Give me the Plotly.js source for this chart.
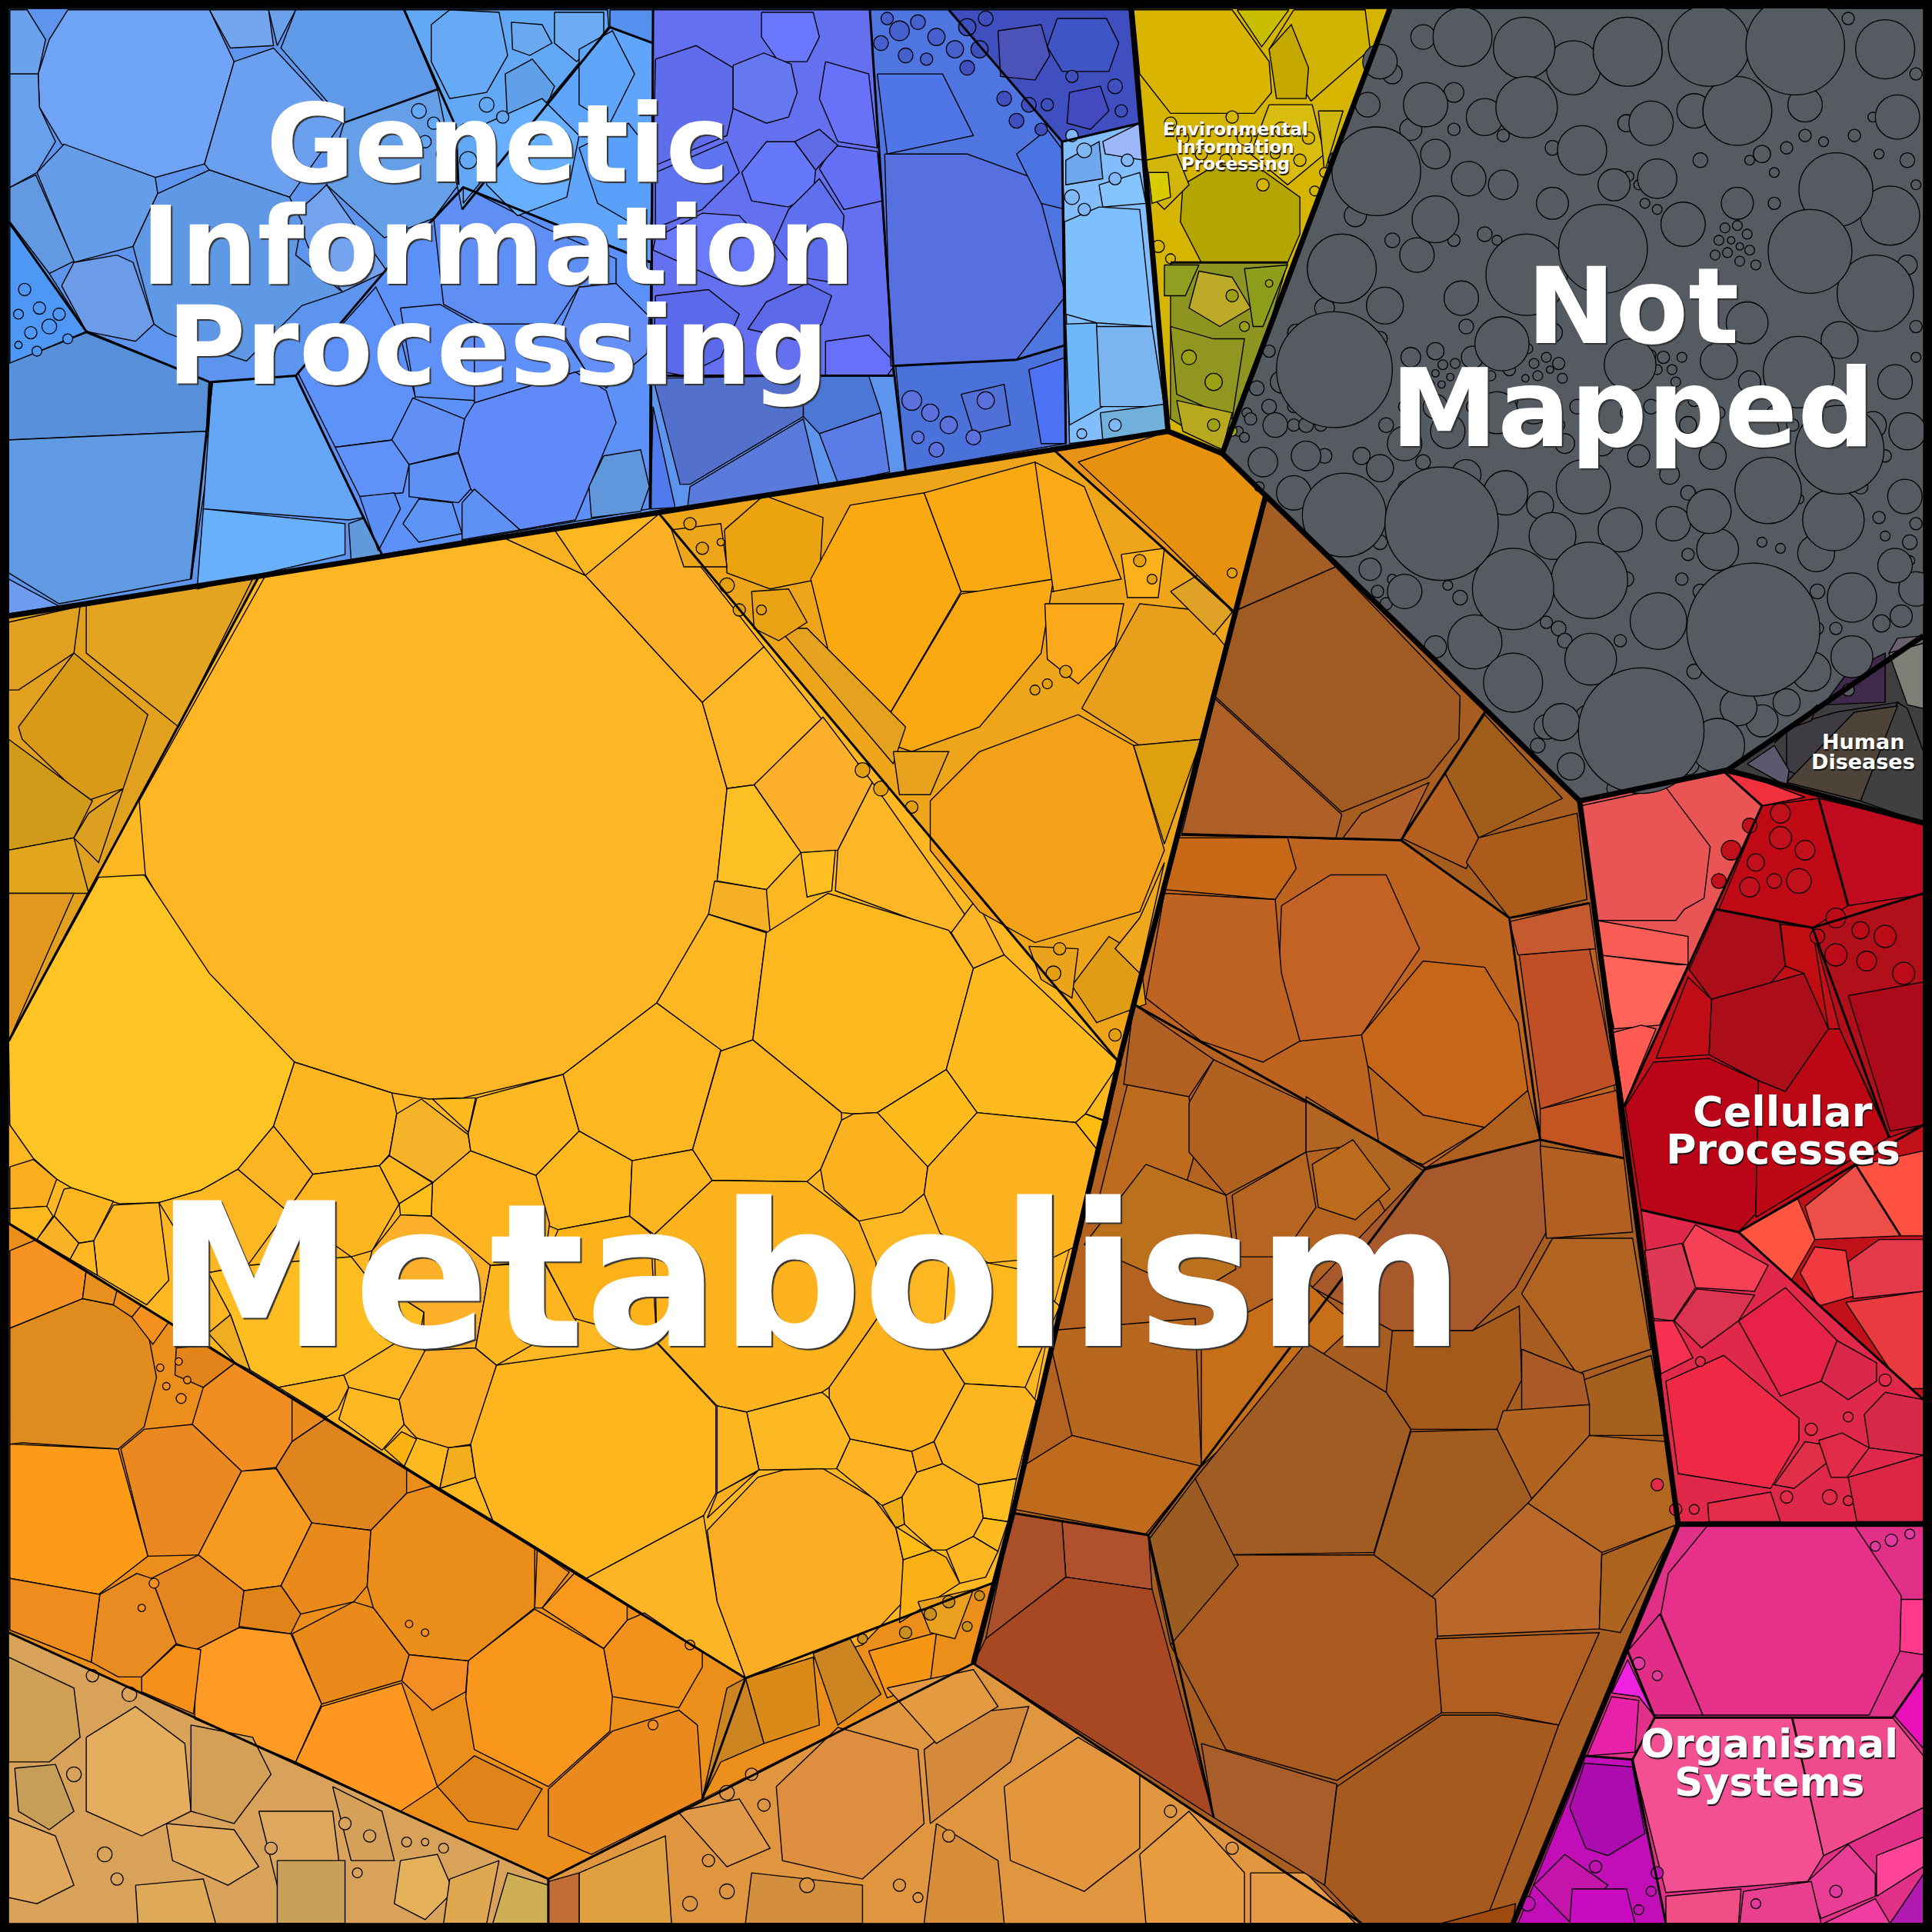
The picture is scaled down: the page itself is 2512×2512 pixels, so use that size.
<!DOCTYPE html>
<html><head><meta charset="utf-8">
<script src="https://cdn.plot.ly/plotly-3.0.1.min.js"></script>
<style>html,body{margin:0;padding:0;background:#fff}</style></head><body>
<div id="chart" style="width:2512px;height:2512px"></div>
<script>
// Each cell: [colour, x1,y1, x2,y2, ...] (picture units 0..1568)
const regionBases = [
 ['#5C94EE',7,7,918,7,948,350,7,500],
 ['#D6B500',918,7,1128,7,992,368,948,350],
 ['#555B60',1128,7,1561,7,1561,516,1402,625,1282,650,992,368],
 ['#3F3D40',1561,516,1561,668,1402,625],
 ['#C0101A',1282,650,1402,625,1561,668,1561,1237,1362,1237],
 ['#E03088',1362,1237,1561,1237,1561,1561,1228,1561],
 ['#FDB723',7,500,948,350,1027,403,1282,650,1362,1237,1228,1561,7,1561]
];
const metabolismSubregions = [
 ['#E2A01F',7,500,210,468,7,845],
 ['#FDB723',210,468,535,417,910,862,855,1060,822,1225,805,1285,605,1362,7,993,7,845],
 ['#EFA51A',535,417,855,365,1002,497,920,815,908,862],
 ['#E89317',855,365,948,350,992,368,1027,403,1002,497],
 ['#EB8F1A',7,993,605,1362,805,1285,790,1350,570,1460,445,1525,7,1325],
 ['#D9A25A',7,1325,445,1525,445,1561,7,1561],
 ['#E0963E',445,1525,790,1350,1105,1561,445,1561],
 ['#A75C20',1027,403,1282,650,1362,1237,1228,1561,1105,1561,790,1350,822,1228,908,862,920,815,1002,497],
 ['#BF6420',955,678,1137,682,1225,745,1290,735,1318,940,1250,925,1157,948,920,815],
 ['#B4621F',920,815,1157,948,1070,1045,975,1190,932,1246,822,1228,908,862]
];
const yellowCells = [
 ['#FEB625',215,468,410,437,475,467,570,570,590,640,580,735,533,814,457,872,376,891,348,892,318,887,239,862,170,800,118,710,113,650],
 ['#FEC423',117,710,170,790,239,862,222,914,193,949,163,966,129,976,97,977,58,964,46,957,27,940,8,913,7,845,80,712],
 ['#FBB026',475,467,535,417,620,525,570,570],
 ['#F8B120',410,437,450,430,475,467],
 ['#FDB726',570,570,620,525,668,585,612,637,590,640],
 ['#FDB02B',612,637,668,582,708,635,680,690,650,692],
 ['#FDC024',590,640,612,637,650,692,622,722,582,715],
 ['#F5B025',580,715,622,722,625,757,575,742],
 ['#FDB726',680,690,708,635,790,752,770,757,678,723],
 ['#FDC020',650,692,678,690,675,723,655,728],
 ['#FBB424',772,757,792,730,815,775,790,786],
 ['#FDB722',533,814,575,742,622,757,611,844,585,853],
 ['#FDB71F',622,757,672,725,770,755,790,786,768,868,712,903,693,904,683,903,611,844],
 ['#FEBB1F',790,786,815,775,910,864,881,904,873,911,793,903,768,868],
 ['#FEBC1C',712,903,768,868,793,903,753,947],
 ['#FDB31F',683,909,693,904,712,903,753,947,750,969,732,984,697,991,669,966,666,949],
 ['#FDB320',753,947,793,903,873,911,892,935,877,1003,872,1012,856,1020,802,1025,763,1001,750,969],
 ['#FDBB10',873,911,881,904,899,911,892,935],
 ['#FDB81C',881,904,908,864,899,910],
 ['#FDB51F',585,853,611,844,683,903,683,909,666,949,655,959,578,958,562,933],
 ['#FDB622',239,862,318,887,322,904,316,937,308,946,254,953,222,914],
 ['#F5B32A',322,904,342,892,380,921,382,934,352,960,316,938],
 ['#FDBB20',351,892,386,891,380,919],
 ['#FDB822',387,891,457,872,470,918,435,954,382,934,380,920],
 ['#FDB720',457,872,533,814,585,852,562,933,513,942,470,918],
 ['#FDB820',470,918,513,942,511,987,453,998,441,993,435,954],
 ['#FDB51F',513,942,562,933,578,958,531,1002,511,987],
 ['#FDB41E',382,934,435,954,446,993,442,1023,398,1027,350,987,351,960],
 ['#FCB422',193,949,222,914,254,953,233,983],
 ['#FDB520',254,953,308,946,324,977,302,1015,285,1020,233,983],
 ['#FDB71F',308,946,316,938,351,960,324,977],
 ['#FDC01A',324,977,351,960,350,987,325,986],
 ['#FDB02A',325,986,350,987,398,1027,386,1094,344,1096,344,1065,297,1035,302,1015],
 ['#FDB722',129,976,163,966,193,949,233,983,201,1027,169,1033,153,1015],
 ['#FDB826',92,978,129,976,137,1039,119,1059,79,1035,76,1007],
 ['#FEBE22',169,1033,201,1027,285,1020,297,1035,344,1065,342,1077,279,1116,226,1126,203,1112,187,1067],
 ['#EFAE22',169,1082,187,1067,203,1112,191,1106],
 ['#FDB31F',279,1116,283,1126,274,1144,265,1150,226,1126],
 ['#FDB822',283,1126,324,1136,328,1156,310,1177,275,1152],
 ['#FCAC25',324,1136,345,1096,386,1094,403,1108,383,1172,364,1175,338,1167,328,1156],
 ['#FDBA20',338,1167,364,1175,357,1208,328,1190],
 ['#F3AE1E',364,1175,382,1173,386,1199,357,1208],
 ['#FDB820',357,1208,386,1199,400,1234],
 ['#F9B210',312,1176,326,1162,338,1168,328,1190],
 ['#FEB51E',403,1108,533,1090,581,1141,581,1212,571,1230,476,1281,400,1234,386,1199,382,1172],
 ['#FDB620',386,1094,403,1108,438,1088,468,1073,442,1025,398,1027],
 ['#FDB31E',578,958,655,959,697,991,711,1025,712,1070,673,1126,667,1130,606,1146,582,1141,533,1089,531,1002],
 ['#FDB21A',511,987,528,1001,533,1089,466,1070,442,1024,453,998],
 ['#FDB21E',712,1070,765,1095,783,1123,758,1170,740,1178,690,1168,673,1135,673,1126],
 ['#FDB81E',802,1025,827,1030,860,1060,832,1126,783,1123,765,1095,770,1028],
 ['#FDB620',783,1123,832,1126,841,1137,825,1200,794,1205,765,1188,758,1170],
 ['#FDB924',606,1146,667,1130,673,1135,690,1168,679,1192,616,1193],
 ['#FDB61F',582,1141,606,1146,616,1193,582,1212],
 ['#FCAD24',574,1242,615,1199,636,1193,668,1192,709,1216,727,1240,733,1266,733,1300,700,1335,605,1362,582,1300],
 ['#FCB01F',582,1212,615,1194,574,1232],
 ['#FDB322',690,1168,740,1178,744,1195,732,1215,716,1222,679,1192],
 ['#FCAA1E',740,1178,758,1170,765,1188,744,1195],
 ['#FDB620',744,1195,765,1188,794,1205,798,1232,790,1247,768,1258,757,1258,734,1237,732,1215],
 ['#FDBD1E',794,1205,825,1200,818,1235,798,1232],
 ['#EFAD15',716,1222,732,1215,734,1237,727,1240],
 ['#FDBB15',727,1239,757,1258,733,1266],
 ['#F8B015',733,1266,757,1258,768,1264,779,1285,730,1317],
 ['#FDB620',768,1258,790,1247,810,1259,800,1280,779,1285],
 ['#FDBB1F',798,1232,818,1235,810,1259,790,1247],
 ['#FCB524',476,1281,571,1230,582,1300,605,1362],
 ['#F9AE1E',8,947,27,941,46,957,38,979,8,981],
 ['#FDB81E',8,981,38,979,43,987,30,1006,8,993],
 ['#FDB622',52,965,58,964,92,975,76,1007,64,1009,44,987],
 ['#F9B225',30,1006,44,987,64,1009,57,1022],
 ['#FDB722',57,1022,64,1009,76,1007,79,1035]
];
const amberCells = [
 ['#ECA310',588,430,620,402,668,420,665,470,625,478,590,465],
 ['#FBA910',658,470,690,410,750,400,780,480,710,600,680,560],
 ['#FBA910',750,400,840,375,855,440,855,480,780,480],
 ['#FAA811',780,482,855,470,845,530,795,590,740,610,710,600],
 ['#FAAA18',840,375,880,395,910,470,855,480],
 ['#FBA81B',848,490,912,490,905,525,875,555,850,535],
 ['#E79F1C',878,575,925,490,970,495,995,525,975,600,925,605],
 ['#F2A118',755,650,795,610,875,580,920,605,945,690,925,740,840,765,795,740,755,690],
 ['#DFA010',920,605,975,600,945,685],
 ['#E4A21E',632,510,655,510,735,590,725,620],
 ['#E8A21E',725,610,770,610,755,645,730,645],
 ['#E09C14',870,800,900,760,925,775,930,815,890,830],
 ['#ECA31C',835,768,875,770,870,810,845,795],
 ['#FBB11C',910,450,945,445,940,485,915,485],
 ['#E0A226',950,480,975,465,1000,497,985,515],
 ['#E9A214',610,480,640,478,655,505,632,520,612,510],
 ['#EDA61A',545,430,585,425,590,460,555,460],
 ['#E6920F',875,375,948,350,992,368,1027,403,1002,497,945,440],
 ['#EDA81E',925,745,945,700,925,790,905,770]
];
const goldCells = [
 ['#E3A422',70,490,205,470,145,590,70,530],
 ['#D99A18',15,590,60,530,120,580,100,640,70,650,18,600],
 ['#E2A020',7,505,65,492,60,530,15,560,7,560],
 ['#CE9A18',7,600,75,650,60,680,7,690],
 ['#E2A51E',7,690,60,680,72,725,7,725],
 ['#E2981E',7,725,60,725,7,845],
 ['#DDA020',72,660,100,640,80,700,60,680]
];
const orangeCells = [
 ['#F69322',8,1015,30,1006,70,1031,67,1054,8,1078],
 ['#E08B1E',67,1054,92,1059,107,1069,121,1086,127,1118,117,1158,96,1176,18,1171,8,1172,8,1078],
 ['#E8901E',70,1031,95,1047,92,1059,67,1054],
 ['#F4901E',115,1059,137,1073,124,1091,107,1069],
 ['#E2841A',143,1094,169,1092,191,1106,165,1126,142,1116],
 ['#F28E21',165,1126,191,1106,237,1134,237,1170,224,1191,196,1194,156,1156],
 ['#E98A1E',237,1134,265,1151,237,1170],
 ['#DE851E',237,1170,265,1151,330,1192,330,1212,301,1242,253,1236,224,1191],
 ['#E9891F',98,1176,117,1160,156,1156,196,1194,161,1262,120,1263],
 ['#FD9A18',8,1172,96,1176,120,1263,80,1294,8,1281],
 ['#F79A20',196,1194,224,1192,253,1236,228,1287,198,1291,161,1262],
 ['#EA8A1C',253,1236,301,1242,298,1287,287,1300,244,1310,228,1287],
 ['#E4851F',123,1281,161,1262,198,1291,194,1321,159,1339,143,1334],
 ['#E0841A',198,1291,228,1287,244,1310,236,1326,194,1320],
 ['#E88C22',81,1294,111,1277,123,1281,143,1334,115,1361,96,1361,74,1349],
 ['#EE8D1E',8,1281,81,1294,74,1349,8,1323],
 ['#EA8D1B',301,1242,330,1212,350,1206,434,1256,434,1305,380,1348,332,1343,303,1305,298,1287],
 ['#F09420',436,1258,462,1276,440,1305,434,1305],
 ['#F9981C',466,1277,509,1303,509,1315,490,1338,440,1305],
 ['#F0921C',509,1315,523,1309,570,1341,570,1353,551,1386,497,1377,490,1338],
 ['#F9961C',434,1306,490,1338,497,1377,495,1405,445,1450,385,1420,378,1378,380,1348],
 ['#F48E24',332,1343,380,1348,378,1373,351,1388,326,1364],
 ['#EA8A1B',237,1326,287,1300,303,1305,332,1343,326,1364,261,1383],
 ['#FF9A24',159,1339,194,1321,236,1326,261,1383,240,1430,158,1395],
 ['#F59018',115,1361,143,1335,163,1339,157,1391,115,1373],
 ['#FF9720',261,1385,326,1366,355,1450,325,1470,240,1430],
 ['#E0841A',355,1450,385,1425,440,1452,420,1485,380,1478],
 ['#EA8A1E',445,1452,497,1405,551,1388,566,1400,570,1460,480,1505,445,1490],
 ['#DA8A16',605,1362,660,1345,665,1400,620,1415],
 ['#CC8520',660,1342,690,1330,715,1375,680,1400],
 ['#CC8420',590,1370,605,1362,620,1415,585,1430,570,1460],
 ['#F79515',705,1340,760,1325,755,1365,720,1378],
 ['#E9A01E',745,1300,790,1290,775,1330,755,1325]
];
const tanCells = [
 ['#CF9F55',7,1345,60,1370,65,1410,40,1430,7,1430],
 ['#E4AE5E',70,1410,110,1385,150,1415,155,1470,115,1490,70,1470],
 ['#D3A058',155,1400,205,1410,220,1440,190,1480,155,1470],
 ['#E2AB5C',135,1480,190,1485,210,1515,185,1530,140,1510],
 ['#DFA85C',7,1475,45,1490,60,1530,30,1545,7,1540],
 ['#DDA85E',210,1470,270,1470,275,1510,225,1530],
 ['#C8A058',225,1510,280,1510,280,1561,225,1561],
 ['#E5B05A',325,1510,355,1505,368,1535,345,1558,320,1545],
 ['#DFAA58',110,1530,165,1525,175,1561,112,1561],
 ['#CFAF55',400,1561,412,1520,445,1530,445,1561],
 ['#C79E58',12,1435,45,1432,60,1470,40,1485,15,1470],
 ['#DFA850',365,1525,405,1510,395,1561,360,1561],
 ['#D5A05A',270,1450,310,1470,320,1510,285,1510]
];
const copperCells = [
 ['#DD8E3E',630,1450,680,1402,745,1420,750,1480,700,1525,635,1510],
 ['#D48A3A',750,1420,790,1390,835,1385,820,1430,755,1480],
 ['#E3963E',815,1450,875,1410,925,1440,925,1500,880,1535,820,1510],
 ['#E89C40',925,1505,965,1470,1010,1520,1010,1561,930,1561],
 ['#D88E38',760,1480,810,1510,815,1561,750,1561],
 ['#DFA040',470,1520,540,1490,545,1561,470,1561],
 ['#D38E3E',610,1520,700,1530,700,1561,605,1561],
 ['#E19A48',550,1470,600,1460,625,1500,590,1515],
 ['#E39A40',720,1370,790,1355,810,1385,760,1415],
 ['#E59942',1015,1520,1060,1520,1100,1561,1015,1561],
 ['#C26D35',445,1527,470,1520,470,1561,445,1561]
];
const brownCells = [
 ['#A05B22',1004,495,1084,460,1185,565,1184,600,1159,631,1089,659,986,565],
 ['#AE5F25',986,567,1089,661,1084,681,959,677],
 ['#A45E23',1027,405,1045,420,1084,460,1004,495],
 ['#A05D1A',1173,628,1205,580,1268,648,1200,680],
 ['#B45F20',1137,680,1173,628,1200,680,1190,705],
 ['#AB5C1B',1190,700,1200,680,1280,660,1288,730,1225,745],
 ['#B2602A',1160,635,1137,682,1090,680,1105,660],
 ['#C76816',955,680,1045,680,1052,705,1035,730,945,722],
 ['#C26224',1040,735,1080,710,1125,710,1152,770,1105,840,1055,845,1038,790],
 ['#BE6322',945,725,1035,730,1040,790,1055,845,1025,862,975,845,930,810],
 ['#C56618',1105,840,1155,780,1205,785,1232,830,1240,885,1205,915,1155,905,1110,865],
 ['#C14F25',1233,775,1290,770,1312,880,1250,900],
 ['#C45422',1250,900,1312,885,1318,940,1250,925],
 ['#C55A30',1225,748,1290,733,1295,770,1232,775],
 ['#B9651D',1110,865,1155,905,1205,915,1155,945,1120,935],
 ['#B0601E',1205,915,1240,885,1250,925,1157,948],
 ['#BE6B1D',915,880,965,890,970,935,960,970,890,980,905,920],
 ['#B16221',985,860,1060,895,1060,935,995,970,965,935,965,895],
 ['#B06023',920,815,985,860,965,890,912,880],
 ['#B06520',1060,890,1155,950,1128,990,1095,930,1060,935],
 ['#BC6B1C',1065,945,1098,925,1128,965,1100,990,1070,980],
 ['#B56520',1000,970,1060,935,1068,980,1040,1020,1005,1020],
 ['#BB701E',930,945,995,970,1003,1030,970,1050,880,1010],
 ['#B8681E',850,1080,970,1070,975,1190,870,1165],
 ['#C76E18',975,1085,1060,1040,1100,1075,975,1190],
 ['#C06A1C',830,1190,870,1165,975,1190,930,1245,823,1225],
 ['#A8592B',1155,950,1250,925,1255,1000,1230,1045,1195,1080,1130,1080,1065,1045],
 ['#B26122',1250,930,1318,940,1325,1000,1255,1005],
 ['#B1641F',1235,1050,1260,1005,1325,1005,1340,1095,1280,1115],
 ['#A55A1C',1130,1080,1195,1080,1233,1060,1235,1120,1215,1160,1145,1160,1125,1130],
 ['#A5601D',1285,1120,1340,1100,1352,1165,1290,1165],
 ['#AA5A26',1235,1095,1285,1115,1290,1140,1235,1145],
 ['#AF631F',1220,1145,1290,1140,1290,1165,1240,1220,1215,1160],
 ['#A05C22',1060,1090,1125,1130,1145,1160,1115,1260,990,1262,970,1200],
 ['#A35C20',1145,1162,1215,1160,1245,1220,1165,1298,1115,1262],
 ['#B3661F',1290,1165,1352,1170,1362,1237,1300,1260,1240,1220],
 ['#BA672B',1240,1220,1300,1260,1298,1322,1165,1328,1160,1298],
 ['#AC641F',1300,1262,1362,1237,1315,1325,1298,1322],
 ['#A95A1F',990,1262,1115,1262,1165,1298,1170,1390,1085,1445,995,1420,950,1335,970,1275],
 ['#B05E22',1165,1330,1298,1325,1265,1400,1215,1390,1170,1390],
 ['#A75A1E',1085,1450,1170,1392,1215,1392,1265,1400,1240,1470,1205,1561,1105,1561,1075,1530],
 ['#A95D2A',975,1415,1085,1448,1075,1530,985,1475],
 ['#9A5C20',932,1250,970,1200,1005,1270,950,1335],
 ['#B0512E',862,1235,932,1246,935,1290,865,1280],
 ['#A94F2A',822,1228,862,1235,865,1280,800,1330],
 ['#A84822',800,1330,865,1280,935,1290,985,1475,790,1350],
 ['#A04A10',1170,1561,1230,1545,1228,1561]
];
const geneticCells = [
 ['#6FA3F5',55,8,170,8,190,50,166,133,126,144,50,117,32,87,31,60,40,32],
 ['#6BA0F0',190,50,222,39,278,99,235,160,170,138,166,133],
 ['#72A5EE',170,8,218,8,222,37,187,39],
 ['#6AA1EA',218,8,240,8,225,37],
 ['#5F9AE8',240,8,328,8,355,72,280,99,228,39],
 ['#649FE8',279,100,355,73,370,103,372,150,352,177,312,193,265,150],
 ['#73A2EF',258,157,265,150,314,220,278,237,250,200,240,173],
 ['#659DE9',30,140,52,117,126,144,128,157,108,200,60,213],
 ['#6299E0',8,152,29,142,60,212,40,222,8,180],
 ['#6C9CE8',50,232,60,213,95,207,108,213,125,263,110,277,70,269],
 ['#5F99E6',128,157,170,138,235,160,245,180,240,207,278,237,245,248,200,293,175,285,135,270,125,263,108,200],
 ['#6AA2EE',8,8,22,8,37,32,31,60,8,60],
 ['#69A0EC',8,60,31,60,32,87,45,115,30,140,8,152],
 ['#4F97F5',8,180,40,222,70,269,8,295],
 ['#578FD8',7,295,70,270,170,310,168,350,7,357],
 ['#5F9AE2',7,357,168,350,170,370,155,470,48,490,7,465],
 ['#6C9BF0',7,470,48,492,7,498],
 ['#64A5F6',172,310,240,305,295,420,283,422,165,413],
 ['#68B0FA',165,413,280,425,280,450,160,478],
 ['#6099DC',283,425,297,420,310,450,285,455],
 ['#5C91F9',376,152,528,213,527,413,310,450,240,305,315,217],
 ['#5F8FF5',352,177,377,152,442,185,500,210,500,230,470,233,450,263,390,263,360,247],
 ['#5D92FA',242,303,305,233,325,273,337,322,318,357,272,363],
 ['#5E92F8',325,250,357,247,385,263,385,325,337,322],
 ['#5F8FF8',385,263,450,263,475,300,467,302,385,327],
 ['#6490F8',470,233,500,230,527,257,525,287,492,315,475,300,455,267],
 ['#6089F9',385,327,467,302,492,317,500,343,467,422,422,430,382,397,372,367,377,340],
 ['#5F91F8',272,363,320,357,332,377,327,400,292,403],
 ['#6090F5',318,357,335,323,377,340,372,367,332,377],
 ['#5E90F5',332,377,372,368,382,397,372,408,332,403],
 ['#5A90F5',292,403,320,400,325,413,307,447],
 ['#5E94F5',327,425,340,405,367,408,375,433,340,440],
 ['#5F91F5',375,408,385,397,422,430,375,438],
 ['#6097DC',490,370,520,365,527,395,520,415,480,420,478,395],
 ['#63A8F5',328,8,493,8,494,22,375,170,355,72],
 ['#66A9F5',350,20,365,8,405,10,412,45,395,75,365,80,350,50],
 ['#5FA0E8',410,60,432,48,450,70,438,100,412,100],
 ['#6EABF5',450,10,490,10,490,30,468,50,450,35],
 ['#6AA9F0',415,18,440,20,448,35,430,45,416,40],
 ['#5FA5FB',494,22,530,35,530,213,376,152,376,165],
 ['#66B0FF',395,100,440,80,470,110,460,160,420,175,395,150],
 ['#5FA6FB',470,40,497,25,515,60,495,100,470,85],
 ['#59A0FA',470,120,510,100,530,125,528,190,485,165],
 ['#5590EE',495,8,530,8,530,35,495,22],
 ['#6570F0',530,8,706,8,725,305,528,305],
 ['#5F6CEC',532,48,565,37,595,55,595,88,590,110,530,135],
 ['#6A78FF',618,10,660,10,665,30,655,50,632,50,618,30],
 ['#6678F0',595,53,620,43,642,52,647,75,640,95,622,100,595,88],
 ['#6578FB',602,140,622,115,645,115,662,138,660,157,640,168,610,163],
 ['#6470F5',665,137,677,118,712,123,716,163,685,170],
 ['#5F6CE6',645,115,665,105,680,118,662,138],
 ['#6A7AF8',532,193,570,173,600,175,620,197,625,217,590,230,530,203],
 ['#5B68E8',622,245,655,230,675,240,667,263,650,277,607,267],
 ['#6670FA',670,277,705,272,727,295,720,305,670,305],
 ['#5F74F0',532,140,590,115,600,140,570,170,532,185],
 ['#5F70EE',640,170,665,145,685,175,680,230,650,225,628,197],
 ['#5B6AEA',532,240,575,235,600,255,585,290,555,305,530,300],
 ['#6872F8',670,50,705,60,712,120,680,115,665,80],
 ['#4F7BEF',530,330,548,412,528,413],
 ['#5270CC',530,307,652,305,652,338,560,393,552,393],
 ['#5A7BDC',560,395,652,340,665,395,558,412],
 ['#4B78D5',652,305,705,305,715,335,665,352,652,338],
 ['#5A7CE6',665,352,715,335,722,383,680,392],
 ['#4E75E0',706,8,770,8,862,115,865,290,725,297],
 ['#5670E0',718,125,785,125,840,145,865,240,825,292,723,297],
 ['#4F75E6',712,60,765,60,790,110,720,125],
 ['#4A74E2',825,125,850,105,865,125,865,170,845,165],
 ['#4B72DA',727,297,825,292,865,280,865,360,735,382],
 ['#4E72F5',835,300,865,290,865,360,845,360],
 ['#5070D8',780,320,815,312,820,345,790,352],
 ['#3F4FC0',770,8,920,8,925,100,862,115],
 ['#4B52B8',810,25,845,20,852,45,840,65,812,62],
 ['#3F54C5',858,15,898,15,908,35,900,58,862,58,850,38],
 ['#4349BE',868,75,893,70,900,90,885,105,866,100],
 ['#82BDFC',862,115,925,100,948,350,868,360],
 ['#7EBFFF',864,180,892,168,925,170,935,265,890,262,865,255],
 ['#6FB7F8',865,263,890,262,895,330,868,345],
 ['#7BB5F0',890,265,935,265,945,330,893,330],
 ['#72B0DC',893,335,945,328,948,350,895,357],
 ['#9CB8F8',895,115,925,100,928,130,897,125],
 ['#6EA9EE',865,130,892,115,895,145,865,150],
 ['#84C4FF',892,150,925,140,930,165,895,168]
];
const environmentCells = [
 ['#D9B400',920,8,1000,8,1030,50,1032,75,1018,92,950,92,925,60],
 ['#C9BD00',1004,8,1046,8,1024,38],
 ['#D1B400',1050,8,1108,8,1112,40,1064,82,1050,60,1030,40],
 ['#C4A800',1030,40,1048,20,1062,55,1060,80,1036,80],
 ['#B5A500',960,150,985,135,1020,135,1055,160,1055,190,1045,213,975,213,958,180],
 ['#D9BC10',1030,85,1065,85,1075,125,1045,150,1015,125],
 ['#D1B50A',930,130,955,125,965,150,945,170,935,160],
 ['#CFB60A',1070,90,1090,90,1075,140],
 ['#8E9420',950,213,1045,213,1030,265,992,365,950,340],
 ['#8C9E1C',1010,218,1045,215,1025,265,1017,265],
 ['#BCAA28',973,220,1000,225,1015,250,990,265,965,250],
 ['#919621',950,265,985,275,1010,275,1000,340,955,320],
 ['#B8A820',955,325,1000,335,992,365,960,350],
 ['#919F20',945,215,973,215,962,240,945,240],
 ['#D8CC00',932,140,948,140,950,160,935,165]
];
const humanCells = [
 ['#3E3B42',1450,590,1490,578,1540,570,1510,650,1450,625],
 ['#404040',1510,650,1561,668,1561,610,1548,575,1540,570],
 ['#4D4338',1450,635,1510,650,1540,573,1505,578],
 ['#7B7F76',1533,530,1561,522,1561,575,1548,572],
 ['#3F2A4C',1480,572,1500,545,1530,530,1530,570],
 ['#5A586C',1418,620,1440,605,1452,625,1450,638],
 ['#4A3A36',1440,603,1475,572,1470,585,1450,592],
 ['#6A6070',1540,518,1561,516,1561,522,1533,530]
];
const cellularCells = [
 ['#E95555',1282,650,1400,627,1430,654,1318,898],
 ['#E95555',1283,654,1352,639,1388,687,1383,729,1367,738,1360,747,1296,747],
 ['#FF635A',1298,775,1361,783,1370,783,1347,832,1310,835],
 ['#FF5B52',1309,838,1332,832,1344,835,1318,898],
 ['#F85D55',1296,747,1370,760,1370,783,1298,775],
 ['#F0303C',1400,627,1425,632,1465,647,1430,654],
 ['#AB0E18',1393,738,1444,747,1449,784,1436,799,1389,811,1371,787],
 ['#AB0E18',1389,811,1464,790,1484,835,1449,886,1427,877,1387,856],
 ['#BA0518',1319,898,1342,862,1387,859,1427,877,1425,985,1411,1000,1332,982],
 ['#C00D15',1344,859,1370,793,1389,811,1387,856],
 ['#BC0815',1449,886,1484,835,1493,835,1533,923,1425,988,1427,877],
 ['#BF0D12',1445,750,1471,753,1484,835,1464,790,1449,784],
 ['#B10F1A',1471,753,1561,725,1561,913,1534,923,1493,835],
 ['#AC0A1A',1500,808,1561,797,1561,913,1534,918],
 ['#BF0A16',1430,654,1476,648,1500,735,1471,753,1395,738],
 ['#C00A20',1476,648,1561,668,1561,726,1500,735],
 ['#FF5540',1410,1000,1459,973,1473,1006,1454,1039],
 ['#EC4F48',1465,979,1506,946,1542,1003,1473,1006],
 ['#FF5142',1507,946,1561,934,1561,1003,1543,1003],
 ['#E93A40',1498,1057,1561,1048,1561,1127,1544,1127],
 ['#E3394A',1500,1024,1525,1006,1561,1006,1561,1048,1504,1054],
 ['#F13A40',1461,1033,1473,1012,1498,1015,1504,1052,1476,1060],
 ['#E0294A',1332,982,1411,1000,1561,1136,1561,1237,1362,1237],
 ['#F73F55',1366,1009,1376,994,1435,1027,1424,1048,1376,1045],
 ['#DE3854',1335,1015,1365,1009,1376,1045,1358,1072,1342,1070],
 ['#DC3450',1359,1072,1377,1046,1424,1051,1411,1072,1381,1094],
 ['#F53050',1342,1072,1358,1072,1374,1102,1348,1115],
 ['#E82148',1411,1072,1449,1045,1491,1088,1478,1121,1445,1133],
 ['#D8274A',1478,1121,1491,1088,1523,1106,1523,1121,1500,1136],
 ['#EE2845',1352,1121,1399,1100,1460,1151,1460,1169,1437,1208,1362,1196],
 ['#E03048',1465,1170,1477,1172,1483,1187,1456,1208,1440,1205],
 ['#DC2444',1500,1199,1561,1181,1561,1235,1507,1235],
 ['#E02A48',1476,1169,1495,1163,1517,1175,1499,1199,1486,1199],
 ['#D62848',1513,1148,1530,1130,1561,1136,1561,1181,1517,1175],
 ['#E52C48',1386,1220,1437,1211,1445,1235,1387,1235]
];
const organismalCells = [
 ['#E6308A',1386,1238,1505,1238,1543,1295,1542,1340,1517,1392,1382,1392,1348,1310,1354,1277],
 ['#E22D88',1321,1340,1347,1310,1382,1392,1342,1392],
 ['#FF3A8D',1543,1298,1561,1298,1561,1343,1542,1340],
 ['#F34F93',1325,1428,1343,1394,1454,1394,1480,1506,1467,1527,1352,1536],
 ['#EF4A8C',1455,1394,1536,1394,1561,1425,1561,1467,1480,1506],
 ['#EA3D95',1467,1527,1500,1497,1522,1521,1522,1539,1478,1557],
 ['#FF4499',1523,1506,1561,1491,1561,1515,1523,1539],
 ['#EF4E85',1352,1539,1413,1533,1411,1561,1352,1561],
 ['#E8408E',1415,1535,1470,1527,1478,1561,1412,1561],
 ['#C20EB8',1287,1425,1324,1428,1352,1561,1232,1561],
 ['#AC0BAD',1274,1467,1286,1431,1325,1434,1335,1488,1305,1506,1287,1500],
 ['#C414AA',1245,1530,1270,1505,1305,1530,1275,1561],
 ['#C80AC0',1274,1561,1276,1533,1320,1533,1327,1561],
 ['#E822A8',1288,1425,1308,1377,1330,1380,1327,1422],
 ['#EE22E0',1308,1374,1321,1347,1342,1392,1330,1377],
 ['#E810B8',1537,1392,1561,1358,1561,1419],
 ['#B01AB0',1534,1561,1561,1521,1561,1561],
 ['#F03CA0',1480,1561,1522,1541,1534,1561]
];
// Not Mapped cells: x, y, radius triples
const notMappedDots = [
 1187,30,24, 1237,39,25, 1277,55,22, 1321,42,28, 1387,37,33, 1457,37,40, 1530,40,24, 1157,85,18,
 1205,95,15, 1239,87,25, 1284,122,20, 1340,100,18, 1375,90,14, 1410,90,28, 1465,85,14, 1540,95,18,
 1117,139,36, 1165,125,12, 1192,145,14, 1220,150,12, 1410,165,13, 1345,145,16, 1310,150,13, 1260,165,13,
 1120,50,14, 1155,30,10, 1110,85,10, 1130,60,8, 1145,105,9, 1180,75,8, 1085,130,7, 1100,175,9,
 1083,300,47, 1170,425,46, 1423,511,54, 1332,593,51, 1091,418,34, 1228,478,33, 1290,471,31, 1346,504,23,
 1291,535,21, 1228,554,24, 1197,521,22, 1503,485,20, 1260,435,19, 1315,430,18, 1435,398,27, 1488,422,25,
 1493,365,36, 1394,446,17, 1474,449,15, 1503,533,17, 1411,574,15, 1394,605,22, 1267,586,15, 1522,238,31,
 1469,204,34, 1490,154,30, 1534,175,24, 1366,182,18, 1301,202,36, 1239,223,33, 1089,218,28, 1165,178,19,
 1150,207,14, 1124,248,15, 1186,242,14, 1219,279,22, 1323,296,21, 1460,302,29, 1395,293,15, 1418,262,17,
 1493,276,15, 1387,415,18, 1358,425,14, 1546,403,14, 1548,350,15, 1538,310,14, 1555,478,14, 1538,459,14,
 1543,500,9, 1527,506,7, 1165,330,10, 1140,360,14, 1175,350,14, 1215,335,17, 1190,385,12, 1245,330,14,
 1145,290,8, 1060,370,12, 1035,345,10, 1025,375,12, 1050,400,14, 1120,380,11, 1222,400,18, 1285,395,22,
 1140,480,14, 1112,462,9, 1165,525,9, 1255,590,10, 1290,585,13, 1275,622,11, 1430,585,13, 1450,570,11,
 1470,545,16, 1520,345,11, 1430,350,14, 1390,370,11, 1250,410,11, 1075,250,8, 1052,270,7, 1040,310,9,
 1120,275,6, 1195,290,9, 1165,285,7, 1190,265,6, 1260,270,8, 1270,360,8, 1300,360,10, 1330,370,9,
 1355,385,8, 1370,345,7, 1375,325,5, 1420,310,9, 1440,335,6, 1455,345,5, 1475,340,7, 1510,140,6, 1548,130,6,
 1548,215,8, 1430,125,7, 1450,120,5, 1440,140,4, 1380,130,6, 1320,100,7, 1260,120,6, 1220,110,5,
 1130,195,6, 1105,370,7, 1075,370,6, 1120,440,6, 1310,640,6, 1370,620,9, 1400,550,7, 1500,560,5, 1550,440,6,
 1555,60,5, 1500,15,5, 1180,105,5, 1265,510,6, 1320,470,6, 1365,470,5, 1380,480,6, 1370,400,6, 1400,470,6,
 1475,480,6, 1510,395,6, 1465,375,5, 1430,440,4, 1445,445,4, 1050,345,5, 1005,350,4, 1012,335,4, 1030,285,5,
 1063,310,5, 1022,395,4, 1171,296,4, 1165,303,3, 1177,306,3, 1170,312,3, 1160,312,4, 1181,295,4, 1150,305,4,
 1185,318,4, 1245,295,4, 1255,290,4, 1258,300,3, 1248,305,4, 1238,307,3, 1265,295,5, 1240,283,4, 1268,307,4,
 1350,290,5, 1345,300,4, 1357,300,4, 1365,290,4, 1340,288,4, 1360,310,4, 1400,185,4, 1410,183,4, 1418,190,4,
 1405,195,3, 1395,195,4, 1412,200,3, 1402,205,4, 1420,203,4, 1392,207,4, 1412,212,4, 1425,215,4, 1335,165,4,
 1345,170,4, 1330,150,4, 1322,143,4, 1118,480,5, 1125,490,5, 1130,470,4, 1248,605,6, 1020,315,6, 1015,340,5,
 1010,355,4, 1030,330,6, 1050,330,5, 1060,345,6, 1072,345,5, 1140,330,5, 1125,345,6, 1105,395,5, 1140,395,5,
 1155,375,6, 1195,330,5, 1265,345,5, 1280,330,6, 1225,300,5, 1210,305,4, 1290,350,5, 1305,320,4, 1320,335,5,
 1340,330,6, 1395,335,5, 1410,345,5, 1370,450,5, 1380,525,5, 1375,545,6, 1315,520,5, 1270,520,6, 1255,505,5,
 1175,475,4, 1185,485,6, 1200,480,4, 1255,475,3, 1450,470,5, 1460,490,4, 1475,510,5, 1490,510,5, 1460,405,4,
 1515,380,4, 1530,370,5, 1525,420,5, 1530,435,4, 1555,425,5, 1550,455,4, 1440,165,5, 1420,130,4, 1465,110,5,
 1480,115,4, 1520,95,4, 1505,110,5, 1525,125,4, 1555,150,4, 1555,265,5, 1555,290,4, 1180,195,5, 1205,190,6, 1215,195,4
];
// Small fine-grained cells elsewhere: colour, then x, y, radius triples
const clusterDots = [
 ['#4F97F5',20,235,5,32,250,5,15,255,4,25,270,5,40,265,6,48,255,5,55,275,4,15,280,3,30,285,4],
 ['#63A8F5',340,90,6,352,100,5,365,110,6,378,105,5,395,85,6,408,95,5,420,120,5,430,110,4,345,115,5,360,125,6,380,130,7],
 ['#4560CC',730,25,8,745,18,6,760,30,7,735,45,6,752,48,5,775,40,7,715,35,6,720,15,5],
 ['#3F50BE',785,22,7,800,15,6,795,40,7,785,55,6,870,62,5,905,70,6,910,90,5,850,85,5,835,85,6,815,80,6,825,98,6,845,105,5],
 ['#5A70DD',740,325,8,755,335,7,770,345,7,790,355,6,745,355,5,760,365,6,800,325,7],
 ['#7FB8F5',870,110,5,880,122,6,905,145,5,915,130,5,870,160,6,880,170,5,905,345,5,878,352,4],
 ['#D6B500',950,100,5,960,112,5,975,125,5,995,130,5,1010,112,6,1025,150,5,1040,105,6,1055,130,5,1062,112,5,1035,125,4,940,200,5,950,210,4,1000,95,5,1075,140,4,1067,155,4],
 ['#9BA015',1000,240,5,1010,265,4,965,290,6,985,310,7,985,345,5,1000,350,4,1030,230,3],
 ['#E4A010',560,425,5,570,445,5,590,475,6,600,495,5,618,495,4,585,440,3,700,625,6,715,640,6,740,655,5,860,770,5,855,790,6,905,840,5,925,455,5,935,470,4,850,555,4,865,545,5,1000,465,4,840,560,4],
 ['#F39020',147,1135,4,135,1125,3,152,1120,3,145,1105,3,130,1110,3,332,1318,3,345,1325,3,125,1285,4,115,1305,3,560,1335,4,530,1400,4],
 ['#C9901E',755,1310,5,770,1300,5,785,1320,4,795,1295,4,735,1325,5,700,1330,4],
 ['#D9A25A',60,1440,6,75,1360,5,105,1375,6,220,1500,5,300,1490,5,330,1495,4,345,1495,3,360,1500,4,280,1480,5,290,1520,4,85,1505,6,95,1525,5],
 ['#DC9540',590,1455,6,610,1440,5,620,1465,5,655,1530,6,730,1530,5,745,1540,4,770,1490,5,560,1545,6,590,1535,6,575,1510,5,950,1470,5,1000,1500,5],
 ['#C0101C',1405,690,8,1425,700,7,1445,680,9,1465,690,8,1420,720,8,1395,715,6,1440,715,6,1460,715,10,1445,660,8,1420,670,6],
 ['#BC0A18',1490,745,8,1510,755,7,1530,760,9,1490,775,9,1515,780,8,1545,790,9,1475,760,6],
 ['#E02A48',1345,1205,5,1360,1225,5,1375,1225,4,1450,1215,5,1485,1215,6,1500,1218,4,1470,1160,5,1500,1150,4,1530,1120,5,1380,1105,4],
 ['#E03AA0',1330,1350,5,1345,1360,4,1522,1255,4,1535,1250,5,1550,1245,4,1425,1545,4,1490,1535,5],
 ['#C012B0',1240,1545,6,1295,1515,5,1340,1535,4,1330,1550,4,1345,1520,5]
];
const mediumLines = [
 [7,180,70,269],[70,269,170,310,168,350,172,310,240,305],[240,305,295,420,310,450],[240,305,315,217,376,152,528,213],[328,8,370,103,372,150],
 [375,170,495,22,530,35],[530,8,528,413],[172,310,155,470],[706,8,725,297,735,382],[528,305,725,305],
 [770,8,862,115,865,360],[725,297,825,292,865,280],[862,115,925,100],
 [950,213,1045,213],[1430,654,1318,898],[1400,627,1430,654],[1393,738,1471,753,1533,923],[1476,648,1500,735],[1471,753,1561,725],
 [1411,1000,1561,1136],[1561,913,1411,1000],[1332,982,1411,1000],[1343,1394,1536,1394,1561,1358],[1321,1340,1343,1394,1325,1428,1352,1561],[1287,1425,1325,1428],
 [7,845,210,468],[7,993,605,1362,805,1285],[535,417,908,862],[855,365,1002,497],[7,1325,445,1525,790,1350,1105,1561],[445,1525,445,1561],[605,1362,570,1460],
 [959,677,1137,682,1225,745,1290,733],[920,815,1157,948,1250,925,1318,940],[1225,745,1250,925],[822,1228,932,1246,985,1475],[932,1246,1157,948],[1137,682,1205,578]
];
const thickLines = [
 [7,500,948,350],[918,7,948,350],[1128,7,992,368,948,350],[992,368,1282,650,1362,1237,1228,1561],
 [1561,516,1402,625,1282,650],[1402,625,1561,668],[1362,1237,1561,1237],[1027,403,908,862,822,1228,790,1350]
];
const frameLine = [3.5,3.5,1564.5,3.5,1564.5,1564.5,3.5,1564.5,3.5,3.5];
const pictureSpan = [0,1568];
const bigLabels = [
 ['Genetic',404,117,140],['Information',404,200,140],['Processing',404,281,140],
 ['Metabolism',657,1036,260],['Not',1325,249,138],['Mapped',1325,332,140],
 ['Environmental',1003,105,23],['Information',1003,119,23],['Processing',1003,133,23],
 ['Human',1512,602,27],['Diseases',1512,618,27],
 ['Cellular',1447,902,54],['Processes',1447,933,54],
 ['Organismal',1436,1415,52],['Systems',1436,1446,52]
];

const PX = 2512/1568;
const xs = a => a.filter((v,i)=>i%2===0);
const ys = a => a.filter((v,i)=>i%2===1);
const poly = (cell, w) => {
  const c = cell.slice(1);
  return {type:'scatter',mode:'lines',x:xs(c).concat(c[0]),y:ys(c).concat(c[1]),fill:'toself',fillcolor:cell[0],
    line:{color:'#000',width:w,shape:'linear'},hoverinfo:'skip',showlegend:false};
};
const stroke = (c, w) => ({type:'scatter',mode:'lines',x:xs(c),y:ys(c),line:{color:'#000',width:w},hoverinfo:'skip',showlegend:false});
const dots = (color, triples) => {
  const t=[];
  for(let i=0;i<triples.length;i+=3) t.push([triples[i],triples[i+1],triples[i+2]]);
  t.sort((a,b)=>a[2]-b[2]);
  return {type:'scatter',mode:'markers',x:t.map(d=>d[0]),y:t.map(d=>d[1]),
    marker:{color,size:t.map(d=>2*d[2]*PX),sizemode:'diameter',opacity:1,line:{color:'#000',width:1.3}},hoverinfo:'skip',showlegend:false};
};
const data = [];
regionBases.forEach(c=>data.push(poly(c,1)));
metabolismSubregions.forEach(c=>data.push(poly(c,1)));
[yellowCells,amberCells,goldCells,orangeCells,tanCells,copperCells,brownCells,geneticCells,environmentCells,humanCells,cellularCells,organismalCells]
  .forEach(g=>g.forEach(c=>data.push(poly(c,1.4))));
data.push(dots('#555B60',notMappedDots));
clusterDots.forEach(g=>data.push(dots(g[0],g.slice(1))));
mediumLines.forEach(l=>data.push(stroke(l,3)));
thickLines.forEach(l=>data.push(stroke(l,7)));
data.push(stroke(frameLine,11));

const axis = {range:pictureSpan,visible:false,fixedrange:true,showgrid:false,zeroline:false};
const layout = {
  width:2512,height:2512,margin:{l:0,r:0,t:0,b:0,pad:0},paper_bgcolor:'#000',plot_bgcolor:'#000',showlegend:false,
  xaxis:Object.assign({},axis),
  yaxis:Object.assign({},axis,{range:[pictureSpan[1],pictureSpan[0]]}),
  annotations:bigLabels.map(l=>({text:'<b>'+l[0]+'</b>',x:l[1],y:l[2],xref:'x',yref:'y',showarrow:false,xanchor:'center',yanchor:'middle',
    font:{family:'DejaVu Sans',size:l[3],color:'#fff',shadow:(l[3]>100?'2px 2px 1px #333':'1px 2px 1px #111')}}))
};
Plotly.newPlot('chart',data,layout,{displayModeBar:false,staticPlot:true});
</script></body></html>
